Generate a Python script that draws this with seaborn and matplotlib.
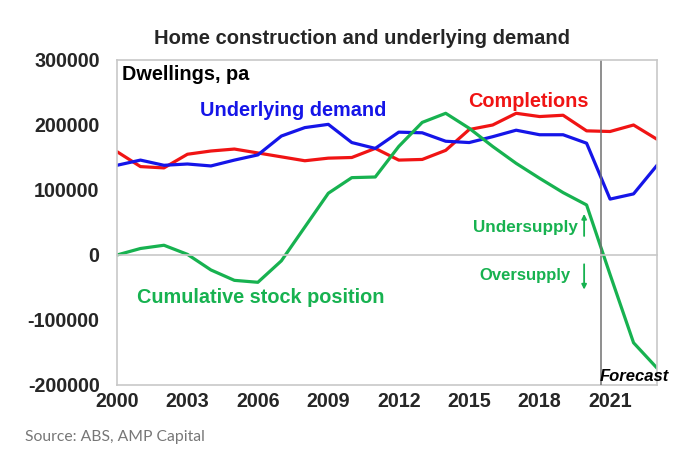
"""
Home construction and underlying demand — dwellings per annum, 2000-2023
"""

import numpy as np
import pandas as pd
import matplotlib
matplotlib.use("Agg")
import matplotlib.pyplot as plt
import seaborn as sns

# ── Data ──────────────────────────────────────────────────────────────────────

YEARS = list(range(2000, 2024))

UNDERLYING_DEMAND = [138000, 146000, 138000, 140000, 137000, 146000, 154000, 183000,
                     196000, 201000, 173000, 164000, 189000, 188000, 175000, 173000,
                     182000, 192000, 185000, 185000, 172000, 86000, 94000, 138000]

COMPLETIONS = [159000, 136000, 134000, 155000, 160000, 163000, 157000, 151000,
               145000, 149000, 150000, 164000, 146000, 147000, 161000, 193000,
               200000, 218000, 213000, 215000, 191000, 190000, 200000, 178000]

CUMULATIVE_STOCK = [0, 10000, 15000, 1000, -23000, -39000, -42000, -9000,
                    43000, 95000, 119000, 120000, 167000, 204000, 218000, 195000,
                    167000, 141000, 118000, 96000, 77000, -30000, -135000, -174000]

Y_TICKS = [-200000, -100000, 0, 100000, 200000, 300000]
X_TICKS = [2000, 2003, 2006, 2009, 2012, 2015, 2018, 2021]
FORECAST_START = 2020.62

# ── Style ─────────────────────────────────────────────────────────────────────

RED   = "#F01414"
BLUE  = "#1515E8"
GREEN = "#17B250"
GREY  = "#C8C8C8"
FONT  = ["Liberation Sans", "DejaVu Sans"]
TICK_SIZE  = 14.2
LABEL_SIZE = 14.3

sns.set_style("white")
plt.rcParams["font.family"] = FONT

df = pd.DataFrame({
    "year": YEARS,
    "Underlying demand": UNDERLYING_DEMAND,
    "Completions": COMPLETIONS,
    "Cumulative stock position": CUMULATIVE_STOCK,
})

fig = plt.figure(figsize=(6.77, 4.58), dpi=100)
ax = fig.add_axes([0.1728, 0.1594, 0.7977, 0.7096])

for col, colour in [("Completions", RED), ("Underlying demand", BLUE),
                    ("Cumulative stock position", GREEN)]:
    sns.lineplot(data=df, x="year", y=col, ax=ax, color=colour, linewidth=2.3)

ax.set_xlim(2000, 2023)
ax.set_ylim(-200000, 300000)
ax.set_xlabel("")
ax.set_ylabel("")

# ── Axes frame ────────────────────────────────────────────────────────────────
for side in ["top", "right", "left"]:
    ax.spines[side].set_color(GREY)
    ax.spines[side].set_linewidth(1.2)
ax.spines["bottom"].set_position(("data", 0))
ax.spines["bottom"].set_color(GREY)
ax.spines["bottom"].set_linewidth(1.2)

ax.set_xticks(X_TICKS)
ax.tick_params(axis="x", direction="in", length=3, color=GREY, labelbottom=False)
ax.set_yticks(Y_TICKS)
ax.set_yticklabels([f"{v}" for v in Y_TICKS])
ax.tick_params(axis="y", direction="out", length=4.5, width=1, color=GREY,
               labelsize=TICK_SIZE, pad=8)
for lbl in ax.get_yticklabels():
    lbl.set_fontweight("bold")

sec = ax.secondary_xaxis("bottom")
sec.set_xticks(X_TICKS)
sec.tick_params(length=0, labelsize=TICK_SIZE, pad=5)
sec.spines["bottom"].set_color(GREY)
sec.spines["bottom"].set_linewidth(1.2)
for lbl in sec.get_xticklabels():
    lbl.set_fontweight("bold")

# forecast divider
ax.axvline(FORECAST_START, color="#707070", linewidth=1.1)

# ── Annotations ───────────────────────────────────────────────────────────────
fig.text(0.535, 0.915, "Home construction and underlying demand",
         ha="center", va="center", fontsize=14.5, fontweight="bold")
ax.text(0.01, 0.985, "Dwellings, pa", transform=ax.transAxes,
        ha="left", va="top", fontsize=LABEL_SIZE, fontweight="bold", color="black")
ax.text(0.153, 0.845, "Underlying demand", transform=ax.transAxes,
        ha="left", va="center", fontsize=LABEL_SIZE, fontweight="bold", color=BLUE)
ax.text(0.651, 0.872, "Completions", transform=ax.transAxes,
        ha="left", va="center", fontsize=LABEL_SIZE, fontweight="bold", color=RED)
ax.text(0.037, 0.27, "Cumulative stock position", transform=ax.transAxes,
        ha="left", va="center", fontsize=LABEL_SIZE, fontweight="bold", color=GREEN)
ax.text(0.853, 0.484, "Undersupply", transform=ax.transAxes,
        ha="right", va="center", fontsize=12.3, fontweight="bold", color=GREEN)
ax.text(0.84, 0.337, "Oversupply", transform=ax.transAxes,
        ha="right", va="center", fontsize=12, fontweight="bold", color=GREEN)
ax.annotate("", xy=(0.865, 0.535), xytext=(0.865, 0.45), xycoords="axes fraction",
            arrowprops=dict(arrowstyle="-|>", color=GREEN, lw=1.3,
                            mutation_scale=7))
ax.annotate("", xy=(0.865, 0.285), xytext=(0.865, 0.38), xycoords="axes fraction",
            arrowprops=dict(arrowstyle="-|>", color=GREEN, lw=1.3,
                            mutation_scale=7))
ax.text(FORECAST_START - 0.05, -187000, "Forecast", ha="left", va="center",
        fontsize=12, fontweight="bold", fontstyle="italic", color="black")

fig.text(0.037, 0.045, "Source: ABS, AMP Capital", ha="left", va="center",
         fontsize=11.3, color="#777777", family=["Lato", "DejaVu Sans"])

fig.savefig("out.png", dpi=100)
